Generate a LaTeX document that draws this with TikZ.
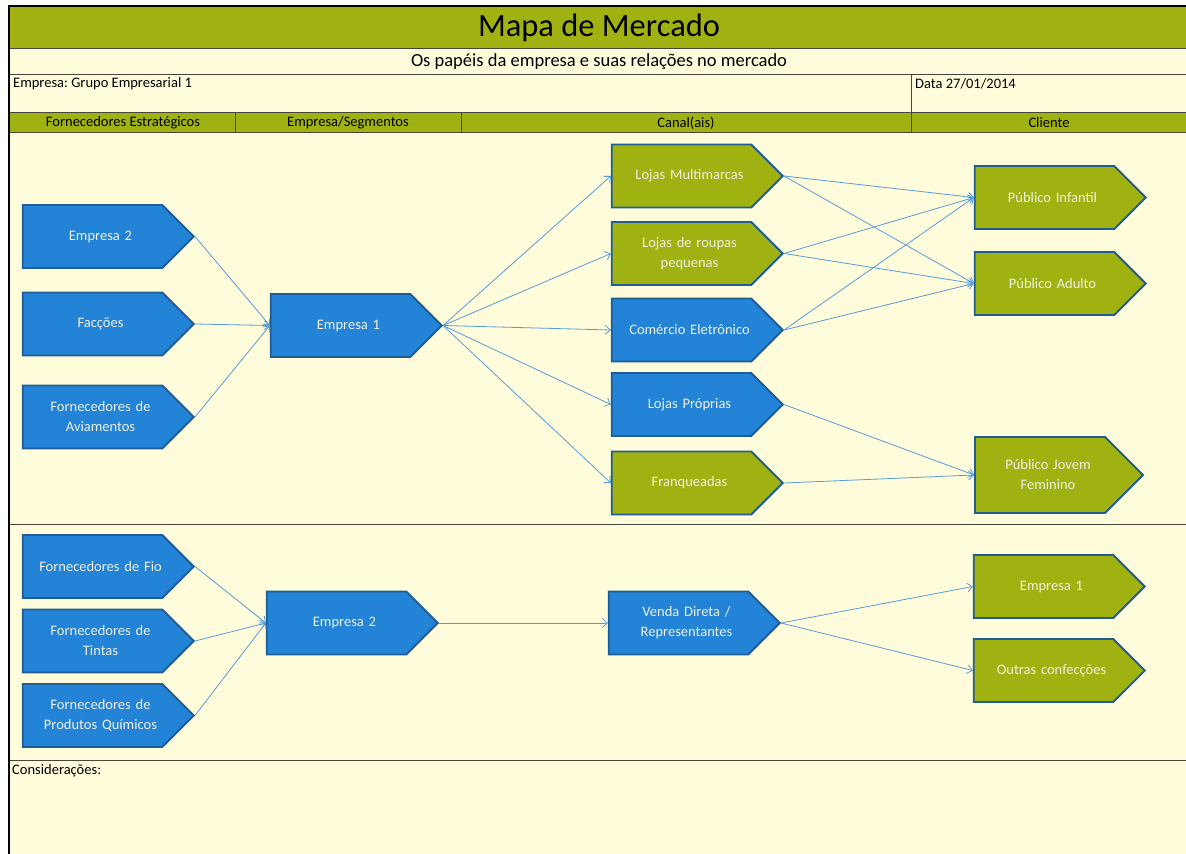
\documentclass[tikz,border=0pt]{standalone}
\usepackage{fontspec}
\setmainfont{Carlito}
\usetikzlibrary{shapes.symbols,arrows.meta,positioning}

\definecolor{cream}{RGB}{255,252,220}
\definecolor{mapgreen}{RGB}{160,178,18}
\definecolor{mapblue}{RGB}{35,131,214}
\definecolor{mapedge}{RGB}{31,93,148}
\definecolor{linkblue}{RGB}{88,155,215}
\definecolor{boxtext}{RGB}{240,240,225}
\definecolor{rulegray}{RGB}{70,70,60}

\begin{document}
\begin{tikzpicture}[x=1pt, y=1pt]

% Styles
\tikzstyle{seg} = [signal, signal to=east, signal pointer angle=90, draw=mapedge, line width=1.8pt, minimum width=171pt, minimum height=63pt, text width=124pt, align=center, text=boxtext, font=\fontsize{14.5}{20}\selectfont, inner sep=2pt, execute at begin node={\leftskip=8pt plus 1fil\rightskip=-8pt plus 1fil}]
\tikzstyle{segblue}  = [seg, fill=mapblue]
\tikzstyle{seggreen} = [seg, fill=mapgreen]
\tikzstyle{link} = [draw=linkblue, line width=0.8pt, -{Straight Barb[length=5pt,width=9pt]}]
\tikzstyle{cell} = [inner sep=0pt, font=\fontsize{14.5}{17}\selectfont]
\tikzstyle{rule} = [draw=rulegray, line width=1pt]

% Frame
\useasboundingbox (0,0) rectangle (1186,-854);
\fill[cream] (9,-6) rectangle (1186,-854);
\fill[mapgreen] (9,-6) rectangle (1186,-48);
\fill[mapgreen] (9,-112) rectangle (1186,-132);
\draw[rule] (9,-48) -- (1186,-48);
\draw[rule] (9,-74) -- (1186,-74);
\draw[rule] (9,-112) -- (1186,-112);
\draw[rule] (9,-132) -- (1186,-132);
\draw[rule] (9,-524) -- (1186,-524);
\draw[rule] (9,-760) -- (1186,-760);
\draw[rule] (911,-74) -- (911,-132);
\draw[rule] (235,-112) -- (235,-132);
\draw[rule] (461,-112) -- (461,-132);
\draw[line width=1.5pt] (9,-854) -- (9,-6) -- (1186,-6);

% Header
\node[cell, font=\fontsize{32.5}{36}\selectfont] (title) at (599,-28) {Mapa de Mercado};
\node[cell, font=\fontsize{18.5}{21}\selectfont] (subtitle) at (599,-62) {Os papéis da empresa e suas relações no mercado};
\node[cell, anchor=west] (empresa) at (13,-84) {Empresa:\ Grupo Empresarial 1};
\node[cell, anchor=west] (data) at (915,-84) {Data 27/01/2014};
\node[cell] (colforn) at (123,-123) {Fornecedores Estratégicos};
\node[cell] (colseg) at (348,-123) {Empresa/Segmentos};
\node[cell] (colcanal) at (686,-123) {Canal(ais)};
\node[cell] (colcli) at (1049,-123) {Cliente};
\node[cell, anchor=west] (consid) at (12,-771) {Considerações:};

% Nodes (upper map)
\node[segblue] (fornemp2) at (92.5,-236.5) {Empresa 2};
\node[segblue, below of=fornemp2, node distance=87.5pt] (faccoes) {Facções};
\node[segblue, below of=faccoes, node distance=93pt] (aviam) {Fornecedores de\\Aviamentos};
\node[segblue] (emp1) at (340.5,-325.5) {Empresa 1};
\node[seggreen] (multi) at (681.5,-176) {Lojas Multimarcas};
\node[seggreen, below of=multi, node distance=77.5pt] (roupas) {Lojas de roupas\\pequenas};
\node[segblue, below of=roupas, node distance=76.5pt] (ecom) {Comércio Eletrônico};
\node[segblue, below of=ecom, node distance=74.5pt] (proprias) {Lojas Próprias};
\node[seggreen, below of=proprias, node distance=78.5pt] (franq) {Franqueadas};
\node[seggreen] (infantil) at (1044.5,-197.5) {Público Infantil};
\node[seggreen, below of=infantil, node distance=86pt] (adulto) {Público Adulto};
\node[seggreen, minimum height=76pt, minimum width=168pt] (jovem) at (1040,-475) {Público Jovem\\Feminino};

% Nodes (lower map)
\node[segblue] (fio) at (92.5,-566.5) {Fornecedores de Fio};
\node[segblue, below of=fio, node distance=74.5pt] (tintas) {Fornecedores de\\Tintas};
\node[segblue, below of=tintas, node distance=74.5pt] (quimicos) {Fornecedores de\\Produtos Químicos};
\node[segblue] (emp2) at (336.5,-623) {Empresa 2};
\node[segblue, right of=emp2, node distance=342pt] (venda) {Venda Direta /\\Representantes};
\node[seggreen] (cliemp1) at (1043.5,-586.5) {Empresa 1};
\node[seggreen, below of=cliemp1, node distance=84pt] (outras) {Outras confecções};

% Connections
\draw[link] (fornemp2.east) -- (emp1.west);
\draw[link] (faccoes.east) -- (emp1.west);
\draw[link] (aviam.east) -- (emp1.west);
\draw[link] (emp1.east) -- (multi.west);
\draw[link] (emp1.east) -- (roupas.west);
\draw[link] (emp1.east) -- (ecom.west);
\draw[link] (emp1.east) -- (proprias.west);
\draw[link] (emp1.east) -- (franq.west);
\draw[link] (multi.east) -- (infantil.west);
\draw[link] (multi.east) -- (adulto.west);
\draw[link] (roupas.east) -- (infantil.west);
\draw[link] (roupas.east) -- (adulto.west);
\draw[link] (ecom.east) -- (infantil.west);
\draw[link] (ecom.east) -- (adulto.west);
\draw[link] (proprias.east) -- (jovem.west);
\draw[link] (franq.east) -- (jovem.west);

\draw[link] (fio.east) -- (emp2.west);
\draw[link] (tintas.east) -- (emp2.west);
\draw[link] (quimicos.east) -- (emp2.west);
\draw[link] (emp2.east) -- (venda.west);
\draw[link] (venda.east) -- (cliemp1.west);
\draw[link] (venda.east) -- (outras.west);

\end{tikzpicture}
\end{document}
